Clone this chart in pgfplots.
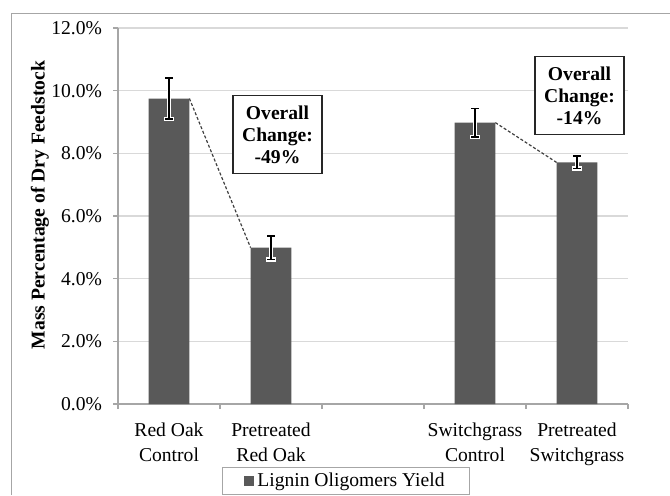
\documentclass[border=0pt]{standalone}
\usepackage{pgfplots}
\pgfplotsset{compat=1.18}
\usepackage{fontspec}
\setmainfont{Liberation Serif}
\definecolor{barc}{HTML}{595959}
\definecolor{gridc}{HTML}{D9D9D9}
\definecolor{axc}{HTML}{A6A6A6}
\definecolor{dashc}{HTML}{404040}
\begin{document}
\begin{tikzpicture}
\useasboundingbox (0,0) rectangle (335pt,247.5pt);
\draw[color=axc, line width=0.6pt] (5.75pt,0) -- (5.75pt,240.75pt) -- (336pt,240.75pt);
\begin{axis}[
  at={(59pt,45.5pt)}, anchor=south west,
  scale only axis, width=255pt, height=188pt,
  xmin=-0.5, xmax=4.5, ymin=0, ymax=12,
  clip=false,
  axis x line*=bottom, axis y line*=left,
  axis line style={axc, line width=0.6pt},
  ytick={0,2,...,12},
  ymajorgrids, grid style={gridc, line width=0.6pt},
  xtick={-0.5,0.5,1.5,2.5,3.5,4.5}, xticklabels={},
  extra x ticks={0,1,3,4},
  extra x tick labels={{Red Oak\\Control},{Pretreated\\Red Oak},{Switchgrass\\Control},{Pretreated\\Switchgrass}},
  extra x tick style={major tick length=0pt, tick label style={align=center, yshift=-6pt}},
  tick align=outside, major tick length=2.5pt,
  tick style={axc, line width=0.6pt},
  /pgf/number format/assume math mode=true,
  yticklabel={\pgfmathprintnumber[fixed,fixed zerofill,precision=1]{\tick}\%},
  yticklabel style={xshift=-2pt},
  every tick label/.append style={font=\fontsize{9.8}{12.2}\selectfont, text=black},
  ylabel={Mass Percentage of Dry Feedstock},
  every axis y label/.style={at={(axis description cs:-0.153,0.529)}, rotate=90, anchor=center, font=\bfseries\fontsize{9.8}{12}\selectfont},
  bar width=0.4, bar shift=0pt,
  legend style={at={(0.447,-0.205)}, anchor=center, draw=axc, line width=0.6pt,
    font=\fontsize{9.8}{12}\selectfont, inner ysep=1pt,
    nodes={inner sep=1.5pt}},
  legend image code/.code={\path[draw=none, fill=none] (-8pt,0) rectangle (5pt,0.1pt); \fill[barc, draw=none] (0pt,-2.5pt) rectangle (5pt,2.5pt);},
]
\addplot[ybar, fill=barc, draw=none] coordinates {(0,9.75) (1,4.99) (3,8.98) (4,7.71)};
\addlegendentry{Lignin Oligomers Yield\hspace*{8pt}}
\addplot[forget plot, draw=none, no markers,
  error bars/.cd, y dir=both, y explicit,
  error bar style={white, line width=2.2pt},
  error mark options={white, line width=2.2pt, rotate=90, mark size=2.4pt}]
  coordinates {(0,9.75) +- (0,0.66) (1,4.99) +- (0,0.38) (3,8.98) +- (0,0.45) (4,7.71) +- (0,0.2)};
\addplot[forget plot, draw=none, no markers,
  error bars/.cd, y dir=both, y explicit,
  error bar style={black, line width=0.8pt},
  error mark options={black, line width=0.8pt, rotate=90, mark size=2pt}]
  coordinates {(0,9.75) +- (0,0.66) (1,4.99) +- (0,0.38) (3,8.98) +- (0,0.45) (4,7.71) +- (0,0.2)};
\addplot[forget plot, sharp plot, no markers, dashc, line width=0.6pt, dash pattern=on 1.5pt off 1pt]
  coordinates {(0.2,9.75) (0.8,4.99)};
\addplot[forget plot, sharp plot, no markers, dashc, line width=0.6pt, dash pattern=on 1.5pt off 1pt]
  coordinates {(3.2,8.98) (3.8,7.71)};
\node[draw=black!85, fill=white, line width=0.6pt, minimum width=44.5pt, minimum height=39pt,
  align=center, inner sep=0pt, font=\bfseries\fontsize{9.8}{11}\selectfont]
  at (axis cs:1.064,8.59) {Overall\\Change:\\-49\%};
\node[draw=black!85, fill=white, line width=0.6pt, minimum width=44.5pt, minimum height=39pt,
  align=center, inner sep=0pt, font=\bfseries\fontsize{9.8}{11}\selectfont]
  at (axis cs:4.025,9.85) {Overall\\Change:\\-14\%};
\end{axis}
\end{tikzpicture}
\end{document}
